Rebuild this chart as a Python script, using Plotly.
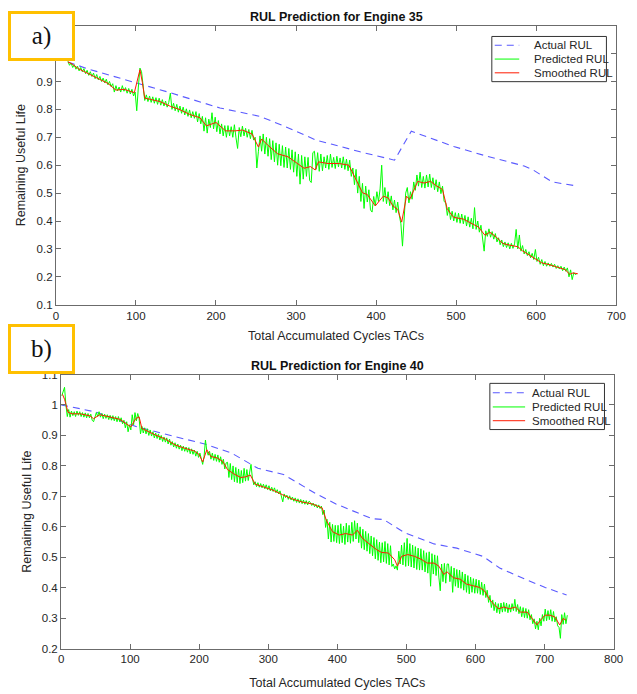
import plotly.graph_objects as go

# ---------------- Engine 35 ----------------
e35_actual_cycles = [15, 40, 100, 140, 205, 255, 285, 325, 345, 380, 423, 444,
                     497, 535, 585, 595, 620, 652]
e35_actual_rul = [0.970, 0.945, 0.895, 0.862, 0.805, 0.775, 0.740, 0.690, 0.675,
                  0.648, 0.618, 0.722, 0.667, 0.635, 0.597, 0.585, 0.540, 0.525]

e35_pred_cycles = list(range(15, 652, 2))
e35_pred_rul = [
    0.972, 0.958, 0.966, 0.950, 0.960, 0.944, 0.955, 0.938, 0.950, 0.935,
    0.946, 0.928, 0.940, 0.922, 0.935, 0.918, 0.930, 0.910, 0.925, 0.906,
    0.918, 0.900, 0.912, 0.895, 0.908, 0.888, 0.900, 0.882, 0.892, 0.862,
    0.885, 0.866, 0.880, 0.862, 0.885, 0.865, 0.878, 0.858, 0.875, 0.855,
    0.872, 0.848, 0.862, 0.795, 0.880, 0.948, 0.935, 0.870, 0.832, 0.852,
    0.828, 0.848, 0.825, 0.845, 0.822, 0.842, 0.818, 0.840, 0.815, 0.835,
    0.812, 0.830, 0.808, 0.825, 0.858, 0.800, 0.822, 0.795, 0.818, 0.790,
    0.812, 0.786, 0.808, 0.780, 0.802, 0.775, 0.798, 0.770, 0.792, 0.768,
    0.792, 0.755, 0.785, 0.748, 0.775, 0.722, 0.770, 0.715, 0.765, 0.735,
    0.788, 0.730, 0.772, 0.720, 0.760, 0.712, 0.748, 0.705, 0.742, 0.700,
    0.742, 0.705, 0.738, 0.700, 0.745, 0.698, 0.660, 0.735, 0.702, 0.740,
    0.705, 0.732, 0.700, 0.728, 0.695, 0.725, 0.690, 0.700, 0.590, 0.650,
    0.705, 0.650, 0.712, 0.640, 0.700, 0.632, 0.695, 0.620, 0.688, 0.612,
    0.680, 0.600, 0.675, 0.598, 0.670, 0.592, 0.665, 0.590, 0.660, 0.585,
    0.655, 0.575, 0.648, 0.560, 0.640, 0.532, 0.635, 0.550, 0.630, 0.560,
    0.628, 0.545, 0.538, 0.645, 0.650, 0.585, 0.645, 0.578, 0.640, 0.580,
    0.630, 0.590, 0.635, 0.585, 0.640, 0.592, 0.628, 0.588, 0.632, 0.594,
    0.626, 0.590, 0.630, 0.585, 0.622, 0.580, 0.618, 0.560, 0.590, 0.530,
    0.585, 0.500, 0.560, 0.470, 0.535, 0.445, 0.525, 0.468, 0.512, 0.440,
    0.432, 0.488, 0.455, 0.505, 0.470, 0.515, 0.600, 0.470, 0.520, 0.462,
    0.505, 0.455, 0.490, 0.440, 0.475, 0.430, 0.468, 0.420, 0.390, 0.310,
    0.420, 0.500, 0.520, 0.465, 0.505, 0.478, 0.540, 0.510, 0.565, 0.525,
    0.575, 0.520, 0.560, 0.518, 0.565, 0.522, 0.568, 0.520, 0.555, 0.512,
    0.548, 0.505, 0.540, 0.498, 0.525, 0.470, 0.465, 0.420, 0.450, 0.405,
    0.435, 0.400, 0.430, 0.395, 0.428, 0.392, 0.425, 0.390, 0.420, 0.382,
    0.415, 0.378, 0.410, 0.372, 0.448, 0.370, 0.400, 0.360, 0.385, 0.340,
    0.292, 0.365, 0.345, 0.372, 0.342, 0.362, 0.335, 0.355, 0.325, 0.340,
    0.315, 0.332, 0.308, 0.325, 0.305, 0.322, 0.300, 0.320, 0.302, 0.318,
    0.370, 0.300, 0.350, 0.292, 0.312, 0.282, 0.298, 0.276, 0.290, 0.268,
    0.284, 0.262, 0.298, 0.255, 0.270, 0.245, 0.262, 0.240, 0.255, 0.238,
    0.250, 0.238, 0.248, 0.235, 0.245, 0.230, 0.240, 0.228, 0.238, 0.222,
    0.235, 0.220, 0.232, 0.200, 0.225, 0.190, 0.215, 0.208, 0.212,
]

e35_smooth_cycles = [15, 20, 28, 40, 53, 65, 75, 85, 98, 102, 105, 108, 111, 118,
                     130, 143, 155, 167, 180, 188, 200, 212, 224, 233, 245, 253,
                     257, 265, 277, 290, 302, 310, 318, 324, 328, 340, 354, 366,
                     374, 383, 389, 399, 409, 415, 421, 427, 432, 438, 442, 446,
                     452, 460, 468, 476, 483, 489, 497, 509, 521, 528, 536, 542,
                     550, 558, 566, 577, 583, 591, 599, 607, 616, 628, 636, 642,
                     646, 652]
e35_smooth_rul = [0.970, 0.963, 0.946, 0.928, 0.911, 0.893, 0.869, 0.872, 0.860,
                  0.905, 0.942, 0.897, 0.840, 0.836, 0.828, 0.811, 0.799, 0.782,
                  0.770, 0.741, 0.753, 0.723, 0.723, 0.726, 0.712, 0.665, 0.694,
                  0.671, 0.641, 0.630, 0.606, 0.589, 0.595, 0.583, 0.612, 0.606,
                  0.606, 0.600, 0.554, 0.501, 0.495, 0.454, 0.489, 0.483, 0.454,
                  0.442, 0.396, 0.489, 0.477, 0.501, 0.542, 0.536, 0.542, 0.525,
                  0.513, 0.442, 0.413, 0.407, 0.390, 0.378, 0.349, 0.360, 0.343,
                  0.320, 0.314, 0.308, 0.293, 0.279, 0.267, 0.250, 0.244, 0.232,
                  0.226, 0.209, 0.214, 0.211]

# ---------------- Engine 40 ----------------
e40_actual_cycles = [0, 10, 50, 110, 165, 208, 247, 285, 322, 368, 398, 450, 467,
                     497, 540, 573, 611, 635, 672, 701, 732]
e40_actual_rul = [1.000, 0.996, 0.977, 0.928, 0.896, 0.872, 0.842, 0.792, 0.772,
                  0.710, 0.675, 0.627, 0.624, 0.581, 0.544, 0.530, 0.503, 0.465,
                  0.428, 0.401, 0.376]

e40_pred_cycles = list(range(1, 734, 2))
e40_pred_rul = [
    1.030, 1.045, 1.058, 1.000, 0.962, 0.985, 0.960, 0.980, 0.965, 0.978,
    0.962, 0.980, 0.966, 0.978, 0.962, 0.975, 0.960, 0.974, 0.958, 0.972,
    0.958, 0.970, 0.950, 0.945, 0.958, 0.975, 0.962, 0.978, 0.960, 0.972,
    0.955, 0.970, 0.956, 0.968, 0.952, 0.966, 0.950, 0.965, 0.948, 0.962,
    0.945, 0.962, 0.945, 0.958, 0.938, 0.950, 0.925, 0.945, 0.912, 0.935,
    0.918, 0.968, 0.935, 0.975, 0.948, 0.972, 0.955, 0.905, 0.930, 0.908,
    0.925, 0.905, 0.922, 0.900, 0.918, 0.898, 0.912, 0.892, 0.908, 0.890,
    0.905, 0.885, 0.900, 0.880, 0.895, 0.878, 0.892, 0.872, 0.888, 0.868,
    0.880, 0.862, 0.876, 0.858, 0.872, 0.855, 0.868, 0.850, 0.865, 0.848,
    0.862, 0.845, 0.860, 0.840, 0.856, 0.838, 0.852, 0.832, 0.848, 0.828,
    0.842, 0.820, 0.805, 0.830, 0.885, 0.850, 0.835, 0.848, 0.822, 0.842,
    0.818, 0.838, 0.815, 0.836, 0.812, 0.830, 0.805, 0.822, 0.790, 0.810,
    0.812, 0.762, 0.808, 0.755, 0.800, 0.748, 0.795, 0.745, 0.790, 0.742,
    0.785, 0.745, 0.792, 0.750, 0.788, 0.752, 0.780, 0.805, 0.760, 0.738,
    0.748, 0.732, 0.745, 0.730, 0.742, 0.728, 0.740, 0.725, 0.738, 0.722,
    0.735, 0.718, 0.730, 0.716, 0.728, 0.712, 0.722, 0.708, 0.718, 0.702,
    0.682, 0.708, 0.696, 0.704, 0.690, 0.702, 0.688, 0.698, 0.684, 0.695,
    0.680, 0.692, 0.678, 0.690, 0.676, 0.688, 0.674, 0.686, 0.672, 0.684,
    0.680, 0.670, 0.678, 0.666, 0.674, 0.662, 0.672, 0.660, 0.668, 0.640,
    0.655, 0.598, 0.625, 0.560, 0.615, 0.550, 0.608, 0.552, 0.605, 0.548,
    0.605, 0.545, 0.610, 0.548, 0.602, 0.542, 0.612, 0.550, 0.605, 0.546,
    0.615, 0.552, 0.620, 0.560, 0.612, 0.548, 0.600, 0.530, 0.592, 0.525,
    0.585, 0.520, 0.578, 0.512, 0.570, 0.505, 0.565, 0.495, 0.558, 0.490,
    0.550, 0.482, 0.548, 0.485, 0.552, 0.480, 0.545, 0.475, 0.538, 0.470,
    0.478, 0.462, 0.472, 0.458, 0.520, 0.478, 0.540, 0.475, 0.548, 0.470,
    0.562, 0.472, 0.545, 0.468, 0.540, 0.465, 0.535, 0.460, 0.530, 0.458,
    0.528, 0.458, 0.522, 0.452, 0.515, 0.448, 0.518, 0.405, 0.512, 0.445,
    0.508, 0.440, 0.505, 0.435, 0.390, 0.478, 0.420, 0.480, 0.415, 0.478,
    0.478, 0.420, 0.470, 0.385, 0.465, 0.405, 0.460, 0.400, 0.458, 0.398,
    0.452, 0.392, 0.445, 0.385, 0.440, 0.380, 0.435, 0.385, 0.430, 0.382,
    0.428, 0.382, 0.425, 0.378, 0.418, 0.375, 0.412, 0.368, 0.392, 0.352,
    0.375, 0.335, 0.360, 0.325, 0.352, 0.318, 0.348, 0.315, 0.350, 0.320,
    0.352, 0.322, 0.350, 0.318, 0.345, 0.320, 0.348, 0.325, 0.362, 0.322,
    0.345, 0.315, 0.338, 0.305, 0.335, 0.302, 0.332, 0.300, 0.328, 0.295,
    0.312, 0.282, 0.298, 0.265, 0.290, 0.262, 0.300, 0.275, 0.312, 0.290,
    0.330, 0.292, 0.325, 0.295, 0.328, 0.290, 0.322, 0.288, 0.305, 0.275,
    0.270, 0.234, 0.312, 0.280, 0.318, 0.282, 0.310,
]

e40_smooth_cycles = [2, 5, 10, 16, 28, 42, 47, 56, 70, 85, 94, 101, 108, 113, 117,
                     125, 137, 151, 165, 179, 193, 200, 205, 211, 217, 226, 234,
                     241, 250, 260, 267, 274, 281, 293, 307, 321, 335, 350, 364,
                     378, 384, 393, 403, 412, 422, 429, 436, 445, 457, 464, 474,
                     483, 487, 493, 502, 512, 521, 530, 540, 547, 554, 559, 568,
                     578, 587, 596, 606, 613, 620, 627, 634, 641, 649, 658, 665,
                     675, 682, 689, 696, 701, 708, 715, 722, 727, 731]
e40_smooth_rul = [1.035, 1.019, 0.976, 0.971, 0.971, 0.964, 0.955, 0.968, 0.961,
                  0.953, 0.939, 0.928, 0.955, 0.961, 0.923, 0.914, 0.901, 0.888,
                  0.869, 0.858, 0.849, 0.837, 0.813, 0.853, 0.831, 0.826, 0.815,
                  0.788, 0.774, 0.762, 0.764, 0.770, 0.740, 0.731, 0.720, 0.705,
                  0.691, 0.681, 0.675, 0.662, 0.622, 0.584, 0.573, 0.578, 0.573,
                  0.589, 0.563, 0.546, 0.525, 0.516, 0.514, 0.492, 0.471, 0.503,
                  0.509, 0.503, 0.494, 0.481, 0.481, 0.471, 0.444, 0.452, 0.433,
                  0.428, 0.412, 0.407, 0.401, 0.390, 0.363, 0.344, 0.331, 0.337,
                  0.331, 0.337, 0.320, 0.320, 0.299, 0.278, 0.299, 0.310, 0.310,
                  0.304, 0.278, 0.299, 0.294]

# ---------------- axis ticks ----------------
x_ticks_35 = [0, 100, 200, 300, 400, 500, 600, 700]
x_ticks_40 = [0, 100, 200, 300, 400, 500, 600, 700, 800]
y_ticks_35 = [0.1, 0.2, 0.3, 0.4, 0.5, 0.6, 0.7, 0.8, 0.9, 1.0, 1.1]
y_labels_35 = ["0.1", "0.2", "0.3", "0.4", "0.5", "0.6", "0.7", "0.8", "0.9", "1", "1.1"]
y_ticks_40 = [0.2, 0.3, 0.4, 0.5, 0.6, 0.7, 0.8, 0.9, 1.0, 1.1]
y_labels_40 = ["0.2", "0.3", "0.4", "0.5", "0.6", "0.7", "0.8", "0.9", "1", "1.1"]

series_names = ["Actual RUL", "Predicted RUL", "Smoothed RUL"]

W, H = 637, 694
BLUE = "#5a5aff"
GREEN = "#00ff00"
RED = "#ff1a00"
AX = "#6b6b6b"
TXT = "#262626"
FONT = "Liberation Sans, Arial, sans-serif"
styles = [dict(color=BLUE, width=1.1, dash="7px,5px"),
          dict(color=GREEN, width=1),
          dict(color=RED, width=1)]


def px_x(p):
    return p / W


def px_y(p):
    return 1 - p / H


fig = go.Figure()

panels = [
    ("x", "y", e35_actual_cycles, e35_actual_rul, e35_pred_cycles,
     e35_pred_rul, e35_smooth_cycles, e35_smooth_rul),
    ("x2", "y2", e40_actual_cycles, e40_actual_rul, e40_pred_cycles,
     e40_pred_rul, e40_smooth_cycles, e40_smooth_rul),
]
for xa, ya, ac, ar, pc, pr, sc, sr in panels:
    for name, style, xs, ys in zip(series_names, styles, (ac, pc, sc), (ar, pr, sr)):
        fig.add_trace(go.Scatter(x=xs, y=ys, mode="lines", name=name, line=style,
                                 xaxis=xa, yaxis=ya, showlegend=False))

axis_common = dict(showline=True, linecolor=AX, linewidth=1, mirror="ticks",
                   ticks="inside", ticklen=5, tickcolor=AX, showgrid=False,
                   zeroline=False, tickfont=dict(family=FONT, size=11.5, color=TXT))
title_font = dict(family=FONT, size=12.5, color=TXT)

fig.update_layout(
    width=W, height=H,
    margin=dict(l=0, r=0, t=0, b=0),
    paper_bgcolor="white", plot_bgcolor="white",
    xaxis=dict(domain=[px_x(54), px_x(626)], range=[0, 700], tickvals=x_ticks_35,
               anchor="y", title=dict(text="Total Accumulated Cycles TACs",
                                      font=title_font, standoff=10),
               **axis_common),
    yaxis=dict(domain=[px_y(304), px_y(20)], range=[0.1, 1.1], tickvals=y_ticks_35,
               ticktext=y_labels_35, anchor="x",
               title=dict(text="Remaining Useful Life", font=title_font, standoff=8),
               **axis_common),
    xaxis2=dict(domain=[px_x(59.3), px_x(623.3)], range=[0, 800], tickvals=x_ticks_40,
                anchor="y2", title=dict(text="Total Accumulated Cycles TACs",
                                        font=title_font, standoff=13),
                **axis_common),
    yaxis2=dict(domain=[px_y(654), px_y(375)], range=[0.2, 1.1], tickvals=y_ticks_40,
                ticktext=y_labels_40, anchor="x2",
                title=dict(text="Remaining Useful Life", font=title_font, standoff=7),
                **axis_common),
)

# legend boxes: (box left, right, top, bottom, sample start, sample end, text x, row ys)
legend_boxes = [
    (499, 616, 31, 77, 502, 527, 540, (40, 54, 68)),
    (497, 614, 384, 431, 500, 533, 538, (393.5, 408, 422)),
]
for bx0, bx1, by0, by1, sx0, sx1, tx, rows in legend_boxes:
    fig.add_shape(type="rect", xref="paper", yref="paper",
                  x0=px_x(bx0), x1=px_x(bx1), y0=px_y(by1), y1=px_y(by0),
                  line=dict(color="#333333", width=1), fillcolor="white", layer="above")
    for name, style, ry in zip(series_names, styles, rows):
        fig.add_shape(type="line", xref="paper", yref="paper",
                      x0=px_x(sx0), x1=px_x(sx1), y0=px_y(ry), y1=px_y(ry),
                      line=style, layer="above")
        fig.add_annotation(text=name, xref="paper", yref="paper", x=px_x(tx),
                           y=px_y(ry), xanchor="left", yanchor="middle",
                           showarrow=False,
                           font=dict(family=FONT, size=11.5, color=TXT))

# panel titles
fig.add_annotation(text="<b>RUL Prediction for Engine 35</b>", xref="paper", yref="paper",
                   x=px_x(340), y=px_y(11), xanchor="center", yanchor="middle",
                   showarrow=False, font=dict(family=FONT, size=12.5, color="#111111"))
fig.add_annotation(text="<b>RUL Prediction for Engine 40</b>", xref="paper", yref="paper",
                   x=px_x(341), y=px_y(366), xanchor="center", yanchor="middle",
                   showarrow=False, font=dict(family=FONT, size=12.5, color="#111111"))

# panel tags
for tag, top in (("a)", 5), ("b)", 324)):
    fig.add_annotation(text=tag, xref="paper", yref="paper", x=px_x(5), y=px_y(top),
                       xanchor="left", yanchor="top", showarrow=False,
                       width=57, height=40, borderpad=2, align="center", valign="middle",
                       bgcolor="white", bordercolor="#ffc000", borderwidth=3,
                       font=dict(family="Liberation Serif, Times New Roman, serif",
                                 size=25, color="#111111"))

fig.write_html("out.html")
